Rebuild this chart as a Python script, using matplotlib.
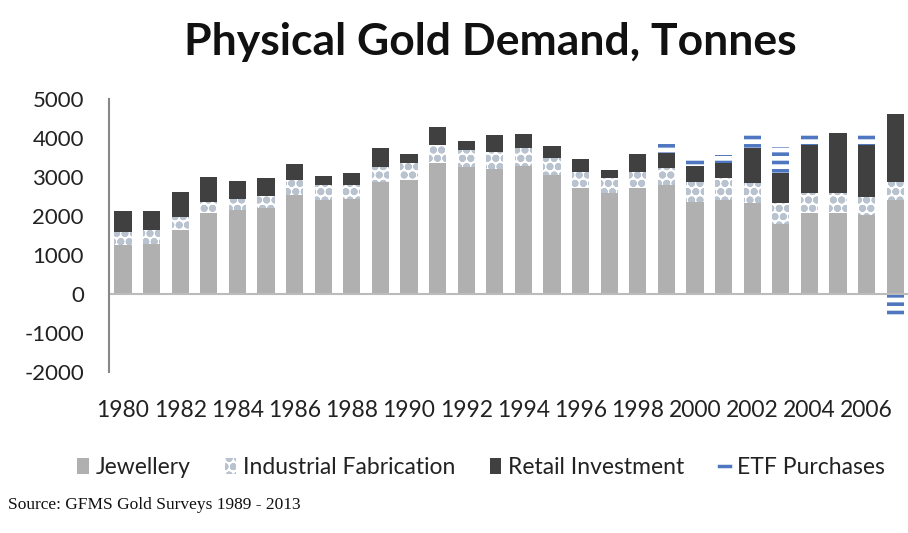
import numpy as np
import matplotlib
matplotlib.use("Agg")
import matplotlib.pyplot as plt
from matplotlib.patches import Patch
from matplotlib.lines import Line2D

plt.rcParams['font.family'] = ['Lato', 'DejaVu Sans']
plt.rcParams['hatch.linewidth'] = 2.6
plt.rcParams['axes.unicode_minus'] = False

# tonnes
years = list(range(1980, 2008))
jewellery = [1270, 1290, 1650, 2070, 2150, 2220, 2540, 2410, 2430, 2880, 2920, 3350, 3260, 3200,
             3280, 3050, 2710, 2580, 2710, 2800, 2370, 2410, 2330, 1810, 2070, 2070, 2030, 2410]
industrial = [330, 360, 315, 300, 300, 290, 385, 385, 365, 385, 430, 470, 430, 450,
              455, 430, 425, 385, 425, 435, 510, 555, 510, 515, 515, 515, 470, 470]
retail = [530, 480, 650, 640, 445, 455, 410, 230, 300, 470, 255, 470, 240, 430,
          365, 315, 320, 230, 445, 375, 405, 385, 900, 770, 1240, 1555, 1325, 1735]
etf = [0, 0, 0, 0, 0, 0, 0, 0, 0, 0, 0, 0, 0, 0,
       0, 0, 0, 0, 0, 255, 240, 215, 365, 680, 315, 0, 315, -650]
tick_labels = [str(y) if (y - 1980) % 2 == 0 else '' for y in years]

x = np.arange(len(years))
jew = np.array(jewellery)
ind = np.array(industrial)
ret = np.array(retail)
etf_arr = np.array(etf)

fig = plt.figure(figsize=(9.08, 5.33), dpi=100)
ax = fig.add_axes([0.12, 0.302, 0.88, 0.512])

w = 0.6
ax.bar(x, jew, w, color='#b0b0b0')
ax.bar(x, ind, w, bottom=jew, color='white', edgecolor='#b9c3cf', hatch='oo', linewidth=0)
ax.bar(x, ret, w, bottom=jew + ind, color='#404040')
etf_bottom = np.where(etf_arr >= 0, jew + ind + ret, 0)
ax.bar(x, etf_arr, w, bottom=etf_bottom, color='white', edgecolor='#4f76c0', hatch='--', linewidth=0)

ax.set_xlim(-0.49, 27.45)
ax.set_ylim(-2000, 5000)
ax.set_yticks(range(-2000, 5001, 1000))
ax.set_xticks(x)
ax.set_xticklabels(tick_labels)
ax.tick_params(axis='y', length=0, pad=18, labelsize=16, colors='#222222')
ax.tick_params(axis='x', length=0, pad=20, labelsize=16.5, colors='#222222')
for s in ['top', 'right', 'bottom']:
    ax.spines[s].set_visible(False)
ax.spines['left'].set_color('#888888')
ax.spines['left'].set_linewidth(1.5)
ax.axhline(0, color='#bbbbbb', linewidth=1.5)

fig.text(0.54, 0.922, 'Physical Gold Demand, Tonnes', ha='center', va='center',
         fontsize=32, fontweight='bold', color='#111111')

handles = [
    Patch(facecolor='#b0b0b0', edgecolor='none'),
    Patch(facecolor='white', edgecolor='#b9c3cf', hatch='oo', linewidth=0),
    Patch(facecolor='#404040', edgecolor='none'),
    Line2D([0], [0], color='#4f76c0', linewidth=2.5),
]
labels = ['Jewellery', 'Industrial Fabrication', 'Retail Investment', 'ETF Purchases']
fig.legend(handles, labels, loc='center', bbox_to_anchor=(0.53, 0.122), ncol=4, frameon=False,
           fontsize=16.5, handlelength=0.5, handleheight=0.7, handletextpad=0.3, columnspacing=1.5,
           labelcolor='#222222')

fig.text(0.009, 0.052, 'Source: GFMS Gold Surveys 1989 - 2013', family='Liberation Serif',
         fontsize=12.5, va='center', color='#111111')

fig.savefig('out.png', dpi=100)
